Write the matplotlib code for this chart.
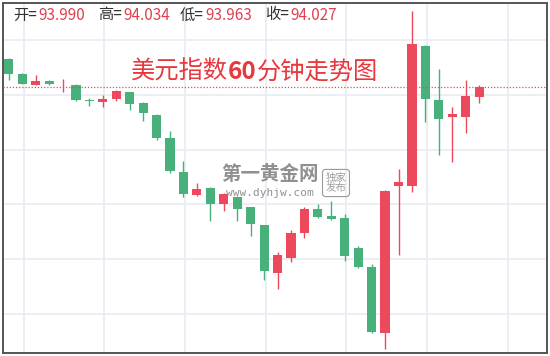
import matplotlib
matplotlib.use("Agg")
import matplotlib.pyplot as plt
import numpy as np

plt.rcParams['font.family'] = ['Noto Sans CJK SC', 'DejaVu Sans']

# 60-minute candles (open, high, low, close)
opens  = [94.098, 94.058, 94.028, 94.038, 94.026, 94.027, 93.987, 93.982, 93.988, 94.007,
          93.978, 93.946, 93.881, 93.788, 93.726, 93.745, 93.700, 93.721, 93.692, 93.643,
          93.513, 93.554, 93.623, 93.688, 93.668, 93.664, 93.582, 93.529, 93.348, 93.750,
          93.750, 94.135, 93.986, 93.939, 93.939, 93.994]
highs  = [94.100, 94.059, 94.055, 94.041, 94.045, 94.030, 93.991, 94.000, 94.014, 94.009,
          93.982, 93.948, 93.901, 93.820, 93.758, 93.748, 93.732, 93.723, 93.693, 93.645,
          93.570, 93.631, 93.692, 93.701, 93.710, 93.675, 93.586, 93.538, 93.739, 93.798,
          94.229, 94.136, 94.070, 93.966, 94.041, 94.027]
lows   = [94.041, 94.029, 94.027, 94.027, 94.009, 93.984, 93.970, 93.968, 93.984, 93.959,
          93.930, 93.876, 93.787, 93.721, 93.724, 93.654, 93.682, 93.654, 93.614, 93.492,
          93.469, 93.542, 93.609, 93.664, 93.657, 93.545, 93.527, 93.349, 93.305, 93.561,
          93.733, 93.925, 93.835, 93.817, 93.897, 93.977]
closes = [94.058, 94.030, 94.037, 94.030, 94.028, 93.986, 93.983, 93.989, 94.012, 93.976,
          93.951, 93.883, 93.792, 93.728, 93.741, 93.700, 93.730, 93.688, 93.646, 93.517,
          93.562, 93.623, 93.688, 93.666, 93.659, 93.560, 93.529, 93.350, 93.737, 93.762,
          94.140, 93.989, 93.933, 93.948, 93.998, 94.022]

header_labels = ['开=', '高=', '低=', '收=']
header_values = ['93.990', '94.034', '93.963', '94.027']
title_parts = ['美元指数', '60', '分钟走势图']
price_grid = [94.15, 94.00, 93.85, 93.70, 93.55, 93.40]

UP = '#ec4a5c'
DOWN = '#47b07b'

fig = plt.figure(figsize=(5.5, 3.56), dpi=100)
ax = fig.add_axes([3 / 550, 3 / 356, 544 / 550, 350 / 356])

o = np.array(opens); h = np.array(highs); l = np.array(lows); c = np.array(closes)
x = np.arange(len(o))

# grid
for gy in price_grid:
    ax.axhline(gy, color='#e9eef3', lw=1.3, zorder=0)
for gx in np.arange(1.12, 40, 6):
    ax.axvline(gx, color='#e9eef3', lw=1.3, zorder=0)

colors = np.where(c >= o, UP, DOWN)
ax.vlines(x, l, h, colors=colors, lw=1.0, zorder=2)
body = np.maximum(np.abs(c - o), 0.0025)
ax.bar(x, body, bottom=np.minimum(o, c), width=0.68, color=colors, zorder=3)

# last price dotted line
ax.axhline(c[-1], color='#e84a5a', lw=0.9, ls=(0, (1, 1.5)), zorder=4)

ax.set_xlim(-0.43, 40.05)
ax.set_ylim(93.293, 94.252)
ax.set_xticks([]); ax.set_yticks([])
for s in ax.spines.values():
    s.set_color('#555555')
    s.set_linewidth(1.4)

# header
hx = [10.5, 95, 177, 262]
for px, lab, val in zip(hx, header_labels, header_values):
    t = ax.text(px / 544, 1 - 12 / 350, lab, transform=ax.transAxes, fontsize=11,
                color='#333333', va='center', ha='left')
    ax.annotate(val, xy=(1, 0.5), xycoords=t, xytext=(1, 0), textcoords='offset points',
                fontsize=11, color='#e0404f', va='center', ha='left')

# title
t1 = ax.text(128 / 544, 1 - 69 / 350, title_parts[0], transform=ax.transAxes,
             fontsize=17.5, color='#e8373d', va='center', ha='left')
t2 = ax.annotate(title_parts[1], xy=(1, 0.5), xycoords=t1, fontsize=17.5, color='#e8373d',
                 fontweight='bold', va='center', ha='left')
ax.annotate(title_parts[2], xy=(1, 0.5), xycoords=t2, fontsize=17.5, color='#e8373d',
            va='center', ha='left')

# watermark
ax.text(267 / 544, 1 - 172 / 350, '第一黄金网', transform=ax.transAxes, fontsize=14,
        fontweight='bold', color='#7d7d7d', alpha=0.85, ha='center', va='center')
ax.text(267 / 544, 1 - 190 / 350, 'www.dyhjw.com', transform=ax.transAxes, fontsize=8,
        family='DejaVu Sans Mono', color='#7d7d7d', alpha=0.85, ha='center', va='center')
ax.text(333 / 544, 1 - 180 / 350, '独家\n发布', transform=ax.transAxes, fontsize=7.5,
        color='#8a8a8a', alpha=0.85, ha='center', va='center', linespacing=1.1,
        bbox=dict(boxstyle='round,pad=0.3', fc='none', ec='#9a9a9a', lw=0.8))

fig.savefig('out.png', dpi=100)
